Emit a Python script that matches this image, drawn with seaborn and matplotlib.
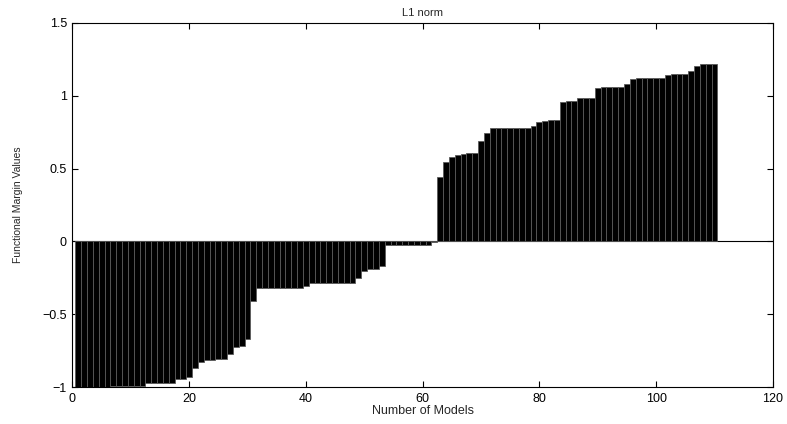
import numpy as np
import pandas as pd
import matplotlib
matplotlib.use("Agg")
import matplotlib.pyplot as plt
import seaborn as sns

models = list(range(1, 111))
margins = (
    [-1.0] * 6 + [-0.99] * 6 + [-0.97] * 5 + [-0.945] * 2 + [-0.93, -0.87, -0.83]
    + [-0.815, -0.815, -0.81, -0.81, -0.77, -0.724, -0.715, -0.667, -0.41]
    + [-0.317] * 8 + [-0.306] + [-0.285] * 8 + [-0.25, -0.2, -0.19, -0.19, -0.17]
    + [-0.022] * 8 + [-0.007]
    + [0.44, 0.546, 0.582, 0.596, 0.600, 0.605, 0.606, 0.69, 0.745]
    + [0.78] * 7 + [0.795, 0.82, 0.83, 0.833, 0.836, 0.959, 0.966, 0.966]
    + [0.984] * 3 + [1.053] + [1.062] * 4 + [1.08, 1.114] + [1.12] * 5
    + [1.144] + [1.15] * 3 + [1.171, 1.205, 1.217, 1.217, 1.219]
)
xticks = [0, 20, 40, 60, 80, 100, 120]
yticks = [-1, -0.5, 0, 0.5, 1, 1.5]
yticklabels = ["\u22121", "\u22120.5", "0", "0.5", "1", "1.5"]

df = pd.DataFrame({"model": models, "margin": margins})

sns.set_style("white")
plt.rcParams["font.family"] = ["Liberation Sans", "DejaVu Sans"]

fig = plt.figure(figsize=(7.87, 4.24), dpi=100)
ax = fig.add_axes([0.092, 0.087, 0.890, 0.859])

sns.barplot(data=df, x="model", y="margin", native_scale=True, color="black",
            saturation=1, width=1.0, errorbar=None, edgecolor="#5a5a5a",
            linewidth=0.6, ax=ax)
ax.axhline(0, color="black", lw=0.8, zorder=0.5)

ax.set_xlim(0, 120)
ax.set_ylim(-1, 1.5)
ax.set_xticks(xticks)
ax.set_xticklabels([str(t) for t in xticks])
ax.set_yticks(yticks)
ax.set_yticklabels(yticklabels)
ax.tick_params(direction="in", length=4, width=0.8, labelsize=9, colors="black",
               top=True, right=True, bottom=True, left=True, pad=4)
for s in ax.spines.values():
    s.set_visible(True)
    s.set_color("black")
    s.set_linewidth(0.8)

ax.set_title("L1 norm", fontsize=8, pad=5)
ax.set_xlabel("Number of Models", fontsize=9, labelpad=0)
ax.set_ylabel("Functional Margin Values", fontsize=7.5, labelpad=14)

fig.savefig("out.png", dpi=100)
